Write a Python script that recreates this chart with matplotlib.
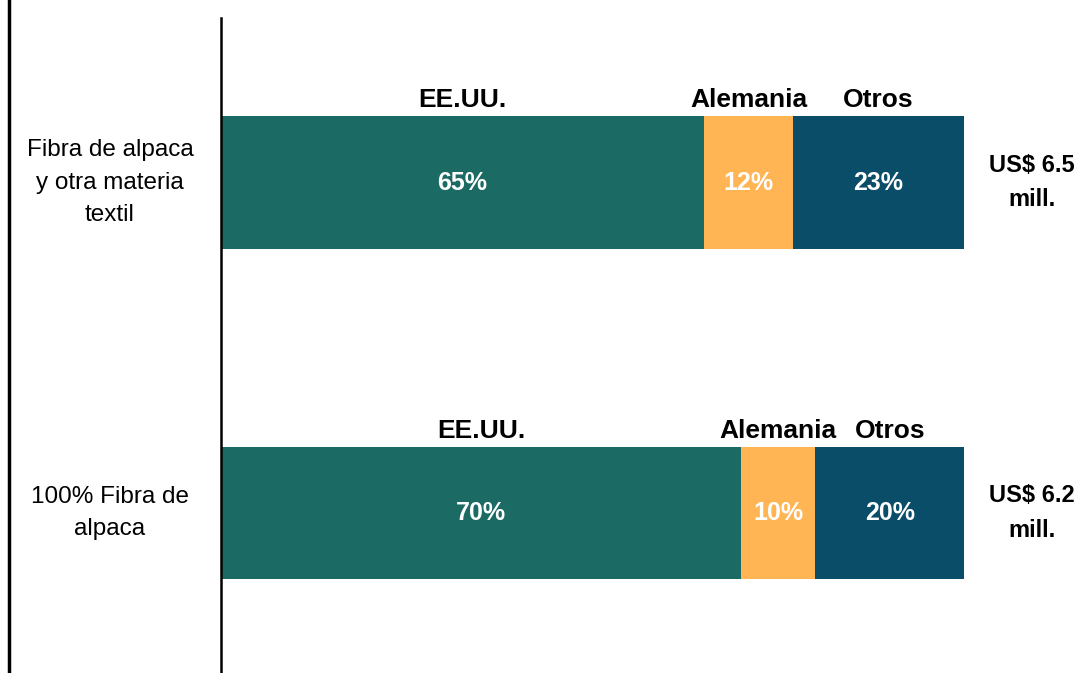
import matplotlib.pyplot as plt
from matplotlib.lines import Line2D

## data
categories = ["Fibra de alpaca\ny otra materia\ntextil", "100% Fibra de\nalpaca"]
countries = ["EE.UU.", "Alemania", "Otros"]
shares = [[65, 12, 23],
          [70, 10, 20]]
totals = ["US$ 6.5\nmill.", "US$ 6.2\nmill."]
colors = ["#1B6A64", "#FFB554", "#0A4D68"]

plt.rcParams['font.family'] = ['Liberation Sans', 'DejaVu Sans']

fig = plt.figure(figsize=(10.79, 6.73), dpi=100)
ax = fig.add_axes([221/1079, 0, 743/1079, 655/673])

ypos = [0, 1]
bar_h = 0.4
for i, y in enumerate(ypos):
    left = 0
    for j, val in enumerate(shares[i]):
        ax.barh(y, val, left=left, height=bar_h, color=colors[j], edgecolor='none')
        cx = left + val / 2
        ## percent inside
        ax.text(cx, y, f"{val}%", ha='center', va='center', color='white',
                fontsize=18, fontweight='bold')
        ## country above the bar
        ax.annotate(countries[j], (cx, y - bar_h / 2), xytext=(0, 3),
                    textcoords='offset points', ha='center', va='bottom',
                    fontsize=19, fontweight='bold', color='black')
        left += val
    ## total on the right
    ax.annotate(totals[i], (100, y), xytext=(68, 0), textcoords='offset pixels',
                ha='center', va='center', fontsize=17, fontweight='bold',
                linespacing=1.65, annotation_clip=False)
    ## category on the left
    ax.annotate(categories[i], (0, y), xytext=(-111, 0), textcoords='offset pixels',
                ha='center', va='center', fontsize=17.5, linespacing=1.62,
                annotation_clip=False)

ax.set_xlim(0, 100)
ax.set_ylim(1.484, -0.498)
ax.set_xticks([])
ax.set_yticks([])
for side in ['top', 'right', 'bottom']:
    ax.spines[side].set_visible(False)
ax.spines['left'].set_linewidth(1.8)
ax.spines['left'].set_color('black')

## thick line on the far left
fig.add_artist(Line2D([9/1079, 9/1079], [0, 1], color='black', linewidth=2.5))

fig.savefig("out.png", dpi=100)
